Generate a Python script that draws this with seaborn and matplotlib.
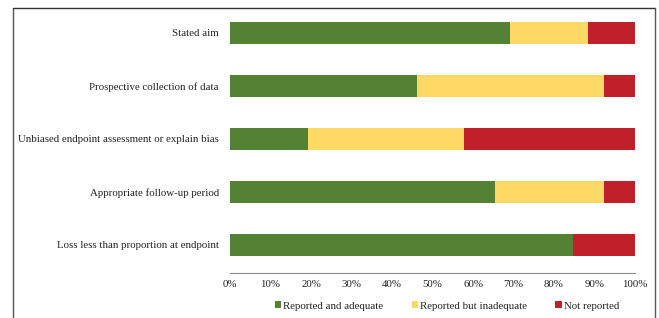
import numpy as np
import pandas as pd
import matplotlib
matplotlib.use("Agg")
import matplotlib.pyplot as plt
import seaborn as sns
from matplotlib.lines import Line2D
from matplotlib.patches import Patch

# Data (percent of studies)
criteria = [
    "Stated aim",
    "Prospective collection of data",
    "Unbiased endpoint assessment or explain bias",
    "Appropriate follow-up period",
    "Loss less than proportion at endpoint",
]
adequate = [69.2, 46.2, 19.2, 65.4, 84.6]
inadequate = [19.2, 46.2, 38.5, 26.9, 0.0]
not_reported = [11.6, 7.6, 42.3, 7.7, 15.4]

series_names = ["Reported and adequate", "Reported but inadequate", "Not reported"]
colors = ["#548235", "#FED966", "#C0202A"]

df = pd.DataFrame(
    {
        "criterion": criteria,
        "adequate": adequate,
        "inadequate": inadequate,
        "not_reported": not_reported,
    }
)
# cumulative ends for stacking
df["c1"] = df["adequate"]
df["c2"] = df["adequate"] + df["inadequate"]
df["c3"] = df["c2"] + df["not_reported"]

sns.set_style("white")
plt.rcParams["font.family"] = ["Liberation Serif", "DejaVu Serif"]
fs = 7.8

fig = plt.figure(figsize=(6.59, 3.18), dpi=100)
ax = fig.add_axes([230 / 659, 1 - 273 / 318, 405 / 659, (273 - 6.5) / 318])

# draw from the longest to the shortest so they stack
for col, c in zip(["c3", "c2", "c1"], colors[::-1]):
    sns.barplot(
        data=df,
        x=col,
        y="criterion",
        orient="h",
        color=c,
        width=0.4,
        saturation=1,
        linewidth=0,
        ax=ax,
    )

ax.set_xlim(0, 100)
ax.set_ylim(4.53, -0.5)
ax.set_xticks(np.arange(0, 101, 10))
ax.set_xticklabels([f"{t}%" for t in range(0, 101, 10)], fontsize=fs)
ax.set_xlabel("")
ax.set_ylabel("")
ax.tick_params(axis="y", length=0, pad=8, labelsize=fs, labelcolor="#222222")
ax.tick_params(axis="x", direction="in", length=3, width=0.8, color="#777777", pad=5,
               labelcolor="#222222")
for s in ["top", "right", "left"]:
    ax.spines[s].set_visible(False)
ax.spines["bottom"].set_color("#888888")
ax.spines["bottom"].set_linewidth(0.8)

handles = [Patch(facecolor=c, edgecolor="none") for c in colors]
fig.legend(
    handles,
    series_names,
    loc="center",
    bbox_to_anchor=(447 / 659, 1 - 306 / 318),
    ncol=3,
    frameon=False,
    fontsize=fs,
    labelcolor="#222222",
    handlelength=0.6,
    handleheight=0.6,
    handletextpad=0.2,
    columnspacing=2.6,
)

# outer frame of the original figure
fig.add_artist(Line2D([13 / 659, 13 / 659], [0, 1 - 8 / 318], color="#555555", lw=1))
fig.add_artist(Line2D([13 / 659, 655 / 659], [1 - 8 / 318, 1 - 8 / 318], color="#333333", lw=1))
fig.add_artist(Line2D([655 / 659, 655 / 659], [0, 1 - 8 / 318], color="#555555", lw=1))

fig.savefig("out.png", dpi=100)
